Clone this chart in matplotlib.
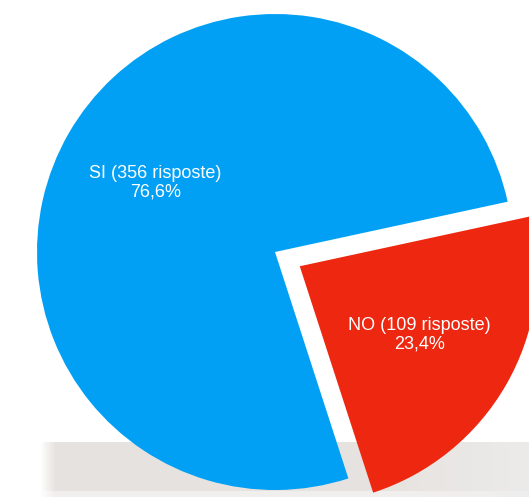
import numpy as np
import matplotlib.pyplot as plt

labels = ["SI", "NO"]
risposte = [356, 109]
percentuali = [76.6, 23.4]
colori = ["#02a0f4", "#ee2710"]
esplosione = [0, 0.12]

W, H = 529, 497
fig = plt.figure(figsize=(W / 100, H / 100), dpi=100)
ax = fig.add_axes([0, 0, 1, 1])

# grey shelf at the bottom, fading in from the left
band_h = 55
img = np.ones((band_h, W, 3))
base = np.array([0.905, 0.89, 0.875])
fade = np.clip((np.arange(W) - 40) / 15, 0, 1)
right = np.clip((np.arange(W) - 380) / 150, 0, 1)
for j in range(band_h):
    c = base.copy()
    if j < 6:  # lighter strip along the bottom edge
        c = c + (1 - c) * 0.45
    col = c[None, :] + (np.array([0.93, 0.93, 0.93]) - c)[None, :] * right[:, None] * 0.8
    img[band_h - 1 - j] = 1 - (1 - col) * fade[:, None]
ax.imshow(img, extent=(0, W, 0, band_h), origin="upper", aspect="auto", zorder=0)

cx, cy, r = 275, 245, 238
# pie() does not scale the explode offset by the radius
wedges, _ = ax.pie(percentuali, colors=colori, explode=[e * r for e in esplosione],
                   startangle=12.2, center=(cx, cy), radius=r,
                   wedgeprops=dict(linewidth=0), frame=True)
ax.set_xlim(0, W)
ax.set_ylim(0, H)
ax.axis("off")

for w, lab, n, p, e in zip(wedges, labels, risposte, percentuali, esplosione):
    mid = np.deg2rad((w.theta1 + w.theta2) / 2)
    d = r * (0.58 + e)
    x = cx + d * np.cos(mid)
    y = cy + d * np.sin(mid)
    txt = f"{lab} ({n} risposte)\n{p:.1f}%".replace(".", ",")
    ax.text(x, y, txt, ha="center", va="center", color="white",
            fontsize=13, family="Liberation Sans", linespacing=1.1, zorder=5)

fig.savefig("out.png", dpi=100)
